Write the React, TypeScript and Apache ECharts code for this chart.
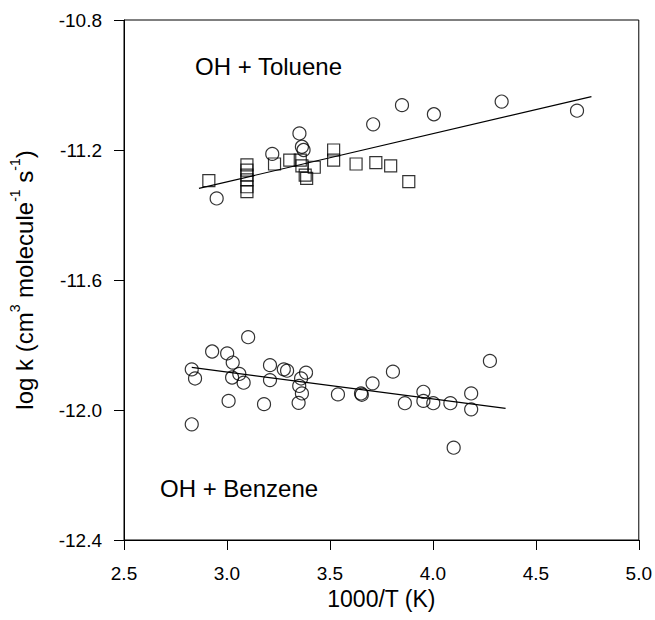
import React, { useEffect, useRef } from "react";
import * as echarts from "echarts";

const xTicks = [2.5, 3.0, 3.5, 4.0, 4.5, 5.0];
const yTicks = [-12.4, -12.0, -11.6, -11.2, -10.8];

const tolueneCircles: [number, number][] = [
  [2.95, -11.349], [3.22, -11.212], [3.352, -11.149], [3.364, -11.19], [3.372, -11.2],
  [3.71, -11.121], [3.85, -11.062], [4.005, -11.09], [4.334, -11.051], [4.70, -11.079],
];

const tolueneSquares: [number, number][] = [
  [2.912, -11.294], [3.097, -11.246], [3.097, -11.262], [3.097, -11.277], [3.097, -11.292],
  [3.097, -11.313], [3.097, -11.328], [3.231, -11.243], [3.305, -11.231], [3.356, -11.231],
  [3.364, -11.249], [3.38, -11.277], [3.387, -11.287], [3.424, -11.253], [3.518, -11.2],
  [3.518, -11.231], [3.627, -11.243], [3.723, -11.239], [3.795, -11.249], [3.883, -11.297],
];

const benzeneCircles: [number, number][] = [
  [2.829, -11.875], [2.845, -11.903], [2.829, -12.044], [2.928, -11.82], [3.001, -11.826],
  [3.103, -11.776], [3.028, -11.854], [3.06, -11.889], [3.025, -11.9], [3.081, -11.916],
  [3.008, -11.972], [3.18, -11.982], [3.209, -11.862], [3.209, -11.908], [3.276, -11.875],
  [3.292, -11.879], [3.384, -11.885], [3.36, -11.903], [3.351, -11.926], [3.364, -11.949],
  [3.348, -11.978], [3.539, -11.952], [3.651, -11.949], [3.655, -11.953], [3.707, -11.918],
  [3.806, -11.882], [3.864, -11.979], [3.954, -11.944], [3.954, -11.972], [4.002, -11.979],
  [4.085, -11.979], [4.101, -12.116], [4.186, -11.949], [4.186, -11.998], [4.277, -11.849],
];

const tolueneFit: [number, number][] = [[2.864, -11.318], [4.77, -11.036]];
const benzeneFit: [number, number][] = [[2.829, -11.869], [4.353, -11.995]];

const FONT = "'Liberation Sans', Arial, sans-serif";

export default function App() {
  const ref = useRef<HTMLDivElement>(null);
  useEffect(() => {
    document.body.style.margin = "0";
    if (!ref.current) return;
    const chart = echarts.init(ref.current, undefined, { renderer: "svg" });
    const markerStyle = { color: "rgba(0,0,0,0)", borderColor: "#000", borderWidth: 1.2 };
    chart.setOption({
      animation: false,
      backgroundColor: "#fff",
      textStyle: { fontFamily: FONT },
      grid: { left: 118, right: 15, top: 20, bottom: 80, show: true, borderColor: "#000", borderWidth: 1 },
      xAxis: {
        type: "value",
        min: xTicks[0],
        max: xTicks[xTicks.length - 1],
        interval: 0.5,
        name: "1000/T (K)",
        nameLocation: "middle",
        nameGap: 36,
        nameTextStyle: { fontSize: 23, color: "#000", fontFamily: FONT },
        axisLine: { lineStyle: { color: "#000", width: 1 } },
        axisTick: { inside: false, length: 10, lineStyle: { color: "#000" } },
        axisLabel: { fontSize: 19, color: "#000", margin: 24, formatter: (v: number) => v.toFixed(1) },
        splitLine: { show: false },
      },
      yAxis: {
        type: "value",
        min: yTicks[0],
        max: yTicks[yTicks.length - 1],
        interval: 0.4,
        name: "{n|log k (cm}{s|3}{n| molecule}{s|-1}{n| s}{s|-1}{n|)}",
        nameLocation: "middle",
        nameGap: 88,
        nameRotate: 90,
        nameTextStyle: {
          color: "#000",
          fontFamily: FONT,
          rich: {
            n: { fontSize: 24, lineHeight: 28, verticalAlign: "bottom", color: "#000", fontFamily: FONT },
            s: { fontSize: 14, lineHeight: 16, verticalAlign: "top", color: "#000", fontFamily: FONT },
          },
        },
        axisLine: { lineStyle: { color: "#000", width: 1 } },
        axisTick: { inside: false, length: 10, lineStyle: { color: "#000" } },
        axisLabel: { fontSize: 19, color: "#000", margin: 22, formatter: (v: number) => v.toFixed(1) },
        splitLine: { show: false },
      },
      graphic: [
        { type: "text", left: 195, top: 54, style: { text: "OH + Toluene", fontSize: 24, fill: "#000", fontFamily: FONT } },
        { type: "text", left: 160, top: 476, style: { text: "OH + Benzene", fontSize: 24, fill: "#000", fontFamily: FONT } },
      ],
      series: [
        { type: "line", data: tolueneFit, symbol: "none", lineStyle: { color: "#000", width: 1.2 }, z: 1 },
        { type: "line", data: benzeneFit, symbol: "none", lineStyle: { color: "#000", width: 1.2 }, z: 1 },
        { type: "scatter", data: tolueneCircles, symbol: "circle", symbolSize: 13, itemStyle: markerStyle, z: 2 },
        { type: "scatter", data: tolueneSquares, symbol: "rect", symbolSize: 12, itemStyle: markerStyle, z: 2 },
        { type: "scatter", data: benzeneCircles, symbol: "circle", symbolSize: 13, itemStyle: markerStyle, z: 2 },
      ],
    });
    return () => chart.dispose();
  }, []);
  return <div ref={ref} style={{ width: 655, height: 620 }} />;
}
